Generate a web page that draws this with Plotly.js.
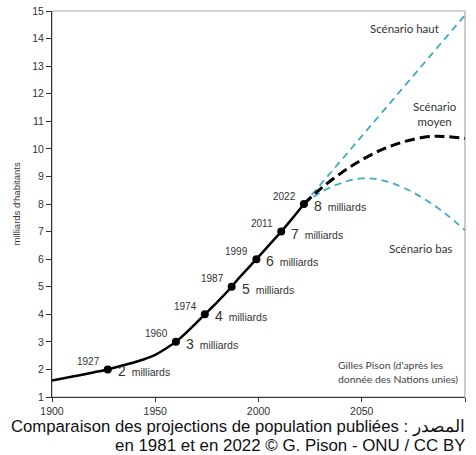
<!DOCTYPE html>
<html>
<head>
<meta charset="utf-8">
<script src="https://cdn.plot.ly/plotly-3.0.1.min.js"></script>
<style>
html,body{margin:0;padding:0;background:#fff;}
#chart{width:476px;height:455px;}
</style>
</head>
<body>
<div id="chart"></div>
<script>
// Historical world population (billions)
const histYears = [1900, 1910, 1920, 1927, 1930, 1940, 1945, 1950, 1955, 1960, 1965, 1970, 1974, 1980, 1987, 1990, 1999, 2005, 2011, 2015, 2022];
const histValues = [1.6, 1.74, 1.89, 2.0, 2.06, 2.26, 2.38, 2.53, 2.75, 3.0, 3.33, 3.7, 4.0, 4.44, 5.0, 5.27, 6.0, 6.5, 7.0, 7.35, 8.0];

// Milestones
const milestoneYears = [1927, 1960, 1974, 1987, 1999, 2011, 2022];
const milestoneValues = [2, 3, 4, 5, 6, 7, 8];

// Projections
const highYears = [2022, 2040, 2060, 2080, 2100];
const highValues = [8.0, 9.58, 11.34, 13.09, 14.85];

const medYears = [2022, 2030, 2040, 2050, 2060, 2070, 2080, 2086, 2090, 2100];
const medValues = [8.0, 8.55, 9.12, 9.6, 9.98, 10.25, 10.42, 10.46, 10.45, 10.38];

const lowYears = [2022, 2030, 2040, 2050, 2060, 2070, 2080, 2090, 2100];
const lowValues = [8.0, 8.42, 8.76, 8.93, 8.86, 8.6, 8.2, 7.68, 7.05];

const xTicks = [1900, 1950, 2000, 2050, 2100];
const yTicks = [1, 2, 3, 4, 5, 6, 7, 8, 9, 10, 11, 12, 13, 14, 15];

const teal = '#3fa9c2';
const txt = '#333333';
const arial = 'Liberation Sans, Arial, sans-serif';

const traces = [
  {x: highYears, y: highValues, mode: 'lines', line: {color: teal, width: 1.8, dash: '7px,5px'}},
  {x: lowYears, y: lowValues, mode: 'lines', line: {color: teal, width: 1.8, dash: '7px,5px', shape: 'spline'}},
  {x: medYears, y: medValues, mode: 'lines', line: {color: '#000', width: 3, dash: '10px,5px', shape: 'spline'}},
  {x: histYears, y: histValues, mode: 'lines', line: {color: '#000', width: 2.5, shape: 'spline', smoothing: 1}},
  {x: milestoneYears, y: milestoneValues, mode: 'markers', marker: {color: '#000', size: 8}}
];

const annotations = [];
milestoneYears.forEach((yr, i) => {
  annotations.push({
    x: yr, y: milestoneValues[i], xref: 'x', yref: 'y',
    text: String(yr), showarrow: false, xanchor: 'right', yanchor: 'middle',
    xshift: -6, yshift: 8, font: {family: arial, size: 10, color: txt}
  });
  annotations.push({
    x: yr, y: milestoneValues[i], xref: 'x', yref: 'y',
    text: "<span style='font-size:14px'>" + milestoneValues[i] + "</span>  milliards",
    showarrow: false, xanchor: 'left', yanchor: 'middle',
    xshift: 8, yshift: -2, font: {family: arial, size: 10.5, color: txt}
  });
});

const scen = {family: 'Lato, Open Sans, sans-serif', size: 11.5, color: txt};
annotations.push(
  {x: 2070.5, y: 14.35, xref: 'x', yref: 'y', text: 'Scénario haut', showarrow: false, font: scen},
  {x: 2085.5, y: 11.26, xref: 'x', yref: 'y', text: 'Scénario<br>moyen', showarrow: false, font: scen, align: 'center'},
  {x: 2078.3, y: 6.37, xref: 'x', yref: 'y', text: 'Scénario bas', showarrow: false, font: scen},
  {x: 2037.4, y: 1.9, xref: 'x', yref: 'y', text: "Gilles Pison (d'après les<br>donnée des Nations unies)", showarrow: false, xanchor: 'left', align: 'left', font: {family: 'Lato, Open Sans, sans-serif', size: 10.4, color: '#444'}},
  {x: 0, y: 0.5, xref: 'paper', yref: 'paper', xshift: -44, text: "milliards d'habitants", textangle: -90, showarrow: false, font: {family: arial, size: 9.5, color: txt}},
  {x: 1, y: -0.078, xref: 'paper', yref: 'paper', xanchor: 'right', yanchor: 'middle', xshift: 2, text: 'Comparaison des projections de population publiées : المصدر', showarrow: false, font: {family: arial, size: 16.7, color: '#111'}},
  {x: 1, y: -0.125, xref: 'paper', yref: 'paper', xanchor: 'right', yanchor: 'middle', xshift: 2, text: 'en 1981 et en 2022 © G. Pison - ONU / CC BY', showarrow: false, font: {family: arial, size: 16.9, color: '#111'}}
);

const layout = {
  width: 476, height: 455,
  margin: {l: 52, r: 11, t: 11, b: 58},
  paper_bgcolor: '#fff', plot_bgcolor: '#fff',
  showlegend: false,
  xaxis: {
    range: [1900, 2100], tickvals: xTicks, ticktext: xTicks.map(String),
    showgrid: false, zeroline: false, showline: true, linecolor: '#333', linewidth: 1,
    ticks: 'outside', ticklen: 4, tickcolor: '#333',
    tickfont: {family: arial, size: 10.5, color: txt}
  },
  yaxis: {
    range: [1, 15], tickvals: yTicks, ticktext: yTicks.map(String),
    showgrid: false, zeroline: false, showline: true, linecolor: '#333', linewidth: 1,
    ticks: 'outside', ticklen: 5, tickcolor: '#333',
    tickfont: {family: arial, size: 10.5, color: txt}
  },
  shapes: [
    {type: 'rect', xref: 'paper', yref: 'paper', x0: 0, x1: 1, y0: 0, y1: 1, line: {color: '#aaaaaa', width: 1.2}, layer: 'below'}
  ],
  annotations: annotations
};

Plotly.newPlot('chart', traces, layout, {staticPlot: true, displayModeBar: false});
</script>
</body>
</html>
